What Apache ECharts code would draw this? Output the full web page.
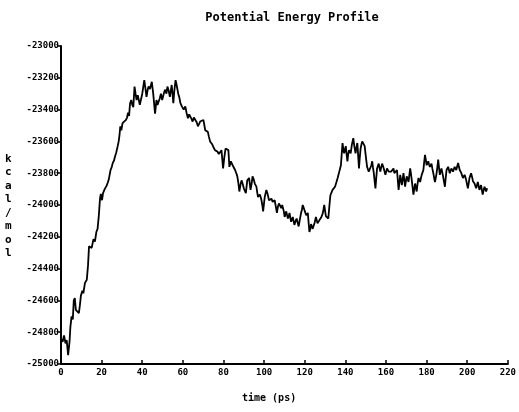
<!DOCTYPE html>
<html>
<head>
<meta charset="utf-8">
<script src="https://cdn.jsdelivr.net/npm/echarts@6/dist/echarts.min.js"></script>
<style>html,body{margin:0;padding:0;background:#fff}#c{width:519px;height:412px}</style>
</head>
<body>
<div id="c"></div>
<script>
const titleText = "Potential Energy Profile";
const xAxisLabel = "time (ps)";
const yAxisLabel = "kcal/mol";
const xTicks = [0, 20, 40, 60, 80, 100, 120, 140, 160, 180, 200, 220];
const yTicks = [-25000, -24800, -24600, -24400, -24200, -24000, -23800, -23600, -23400, -23200, -23000];

const timePs = [
0,0.8,1.5,2.2,2.8,3.5,4.2,4.6,5.2,5.8,6.3,6.8,7.3,8.0,8.8,9.3,9.8,10.5,11.0,11.8,12.7,13.3,13.8,14.5,15.1,16.0,16.7,17.4,18.0,18.6,19.2,19.6,20.2,20.7,21.5,22.4,23.0,23.5,24.4,25.0,25.5,26.1,26.6,27.2,27.9,28.4,28.8,29.2,29.7,30.3,31.0,32.0,32.5,33.0,33.5,34.0,34.6,35.1,35.6,36.2,36.7,37.2,37.8,38.3,38.8,39.4,40.0,40.4,41.0,41.5,42.1,42.6,43.1,43.8,44.7,45.4,46.3,47.0,47.5,48.0,48.6,49.2,49.8,50.3,50.8,51.3,51.9,52.4,53.0,53.6,54.5,55.3,55.8,56.4,57.0,57.7,58.2,58.8,59.5,60.4,61.2,61.8,62.5,63.1,63.7,64.3,64.8,65.4,66.1,66.8,67.4,68.0,68.5,69.3,70.1,70.6,71.0,71.7,72.3,72.8,73.4,74.0,74.5,75.2,75.8,76.5,77.1,77.7,78.3,79.0,79.8,80.4,81.0,81.6,82.4,82.9,83.6,84.5,85.1,85.7,86.3,86.8,87.3,87.8,88.4,88.9,89.5,90.0,90.5,91.0,91.7,92.2,92.6,93.3,93.8,94.3,94.9,95.4,96.2,96.6,97.0,97.9,98.3,98.7,99.1,99.5,100.3,101.1,101.7,102.4,103.0,103.6,104.2,104.7,105.2,105.7,106.3,106.8,107.3,107.9,108.4,108.9,109.3,109.7,110.1,110.5,110.9,111.3,111.7,112.1,112.5,112.9,113.3,113.7,114.1,114.5,114.9,115.5,116.0,116.5,117.0,117.6,118.2,118.6,119.0,119.4,119.8,120.2,120.7,121.1,121.5,121.9,122.3,122.7,123.1,123.4,123.9,124.4,124.9,125.5,125.9,126.3,127.0,127.6,128.2,128.8,129.2,129.6,130.0,130.4,131.0,131.6,132.1,132.6,133.2,133.7,134.3,134.9,135.5,136.2,136.6,137.0,137.4,137.8,138.2,138.6,139.0,139.4,139.8,140.2,140.6,141.0,141.4,141.8,142.2,142.6,143.2,143.9,144.4,145.0,145.4,145.9,146.3,146.7,147.1,147.5,147.9,148.3,148.7,149.1,149.5,149.9,150.3,150.7,151.1,151.5,152.0,152.4,152.8,153.2,153.6,154.0,154.4,154.8,155.2,155.6,156.0,156.4,156.8,157.2,157.6,158.1,158.5,158.9,159.3,159.7,160.1,160.5,160.9,161.3,161.7,162.1,162.5,162.9,163.3,163.7,164.1,164.5,165.0,165.4,165.8,166.2,166.6,167.0,167.4,167.8,168.2,168.6,169.0,169.4,169.8,170.2,170.6,171.1,171.5,171.9,172.3,172.7,173.1,173.5,173.9,174.3,174.7,175.1,175.5,176.0,176.4,176.8,177.2,177.6,178.0,178.4,178.8,179.2,179.6,180.0,180.4,180.8,181.2,181.6,182.0,182.4,182.8,183.3,183.7,184.1,184.5,184.9,185.3,185.7,186.1,186.5,186.9,187.3,187.7,188.1,188.5,189.0,189.4,189.8,190.2,190.6,191.0,191.4,191.8,192.2,192.6,193.0,193.4,193.8,194.2,194.6,195.0,195.5,195.9,196.3,196.7,197.1,197.5,197.9,198.3,198.7,199.1,199.5,199.9,200.3,200.7,201.1,201.5,201.9,202.4,202.8,203.2,203.6,204.0,204.4,204.8,205.2,205.6,206.0,206.4,206.8,207.2,207.6,208.0,208.5,208.9,209.3,209.8
];

const energy = [
-24840,-24860,-24820,-24870,-24850,-24945,-24860,-24770,-24700,-24720,-24600,-24585,-24660,-24650,-24680,-24630,-24570,-24540,-24555,-24490,-24470,-24380,-24260,-24250,-24270,-24215,-24230,-24170,-24150,-24070,-23960,-23930,-23970,-23925,-23900,-23880,-23860,-23840,-23780,-23760,-23735,-23720,-23695,-23670,-23630,-23600,-23560,-23505,-23530,-23485,-23490,-23465,-23450,-23420,-23440,-23360,-23340,-23370,-23385,-23255,-23300,-23340,-23310,-23320,-23370,-23360,-23300,-23295,-23215,-23260,-23320,-23280,-23255,-23270,-23225,-23300,-23425,-23340,-23370,-23360,-23330,-23300,-23340,-23330,-23290,-23275,-23300,-23255,-23280,-23320,-23245,-23360,-23280,-23215,-23250,-23300,-23320,-23360,-23380,-23400,-23380,-23420,-23455,-23430,-23420,-23460,-23475,-23450,-23445,-23480,-23505,-23490,-23475,-23470,-23465,-23500,-23530,-23520,-23540,-23570,-23600,-23590,-23620,-23640,-23655,-23650,-23665,-23680,-23685,-23655,-23770,-23700,-23645,-23635,-23655,-23760,-23725,-23750,-23760,-23780,-23800,-23820,-23860,-23915,-23870,-23845,-23870,-23895,-23910,-23925,-23845,-23840,-23830,-23905,-23870,-23820,-23840,-23865,-23885,-23920,-23950,-23935,-23950,-23970,-24000,-24040,-23950,-23905,-23930,-23970,-23960,-23960,-23980,-23990,-23970,-23980,-24050,-24010,-23990,-24005,-24020,-24000,-24010,-24040,-24075,-24055,-24040,-24065,-24085,-24070,-24050,-24080,-24105,-24090,-24075,-24100,-24125,-24100,-24085,-24110,-24135,-24090,-24050,-24030,-24000,-24015,-24030,-24045,-24065,-24060,-24050,-24110,-24170,-24150,-24120,-24125,-24150,-24145,-24110,-24075,-24095,-24115,-24100,-24095,-24075,-24055,-24030,-24000,-24035,-24070,-24075,-24085,-24010,-23940,-23920,-23905,-23895,-23885,-23860,-23830,-23810,-23790,-23770,-23750,-23680,-23610,-23650,-23675,-23650,-23630,-23680,-23725,-23680,-23655,-23665,-23675,-23620,-23580,-23630,-23675,-23640,-23610,-23690,-23770,-23700,-23645,-23620,-23600,-23595,-23590,-23630,-23675,-23720,-23760,-23775,-23790,-23785,-23780,-23750,-23725,-23765,-23800,-23850,-23895,-23830,-23770,-23755,-23740,-23765,-23790,-23765,-23740,-23755,-23770,-23790,-23810,-23790,-23770,-23780,-23790,-23785,-23780,-23790,-23795,-23780,-23770,-23800,-23800,-23790,-23780,-23840,-23905,-23860,-23810,-23840,-23875,-23840,-23800,-23840,-23885,-23850,-23820,-23835,-23855,-23810,-23770,-23805,-23845,-23890,-23935,-23900,-23865,-23890,-23915,-23870,-23830,-23840,-23855,-23830,-23810,-23795,-23780,-23730,-23685,-23715,-23750,-23740,-23725,-23745,-23760,-23750,-23740,-23770,-23800,-23830,-23855,-23830,-23800,-23760,-23715,-23765,-23810,-23790,-23770,-23795,-23820,-23850,-23885,-23830,-23780,-23770,-23760,-23780,-23800,-23785,-23770,-23780,-23790,-23775,-23760,-23770,-23780,-23760,-23735,-23760,-23780,-23790,-23800,-23815,-23830,-23820,-23810,-23825,-23845,-23870,-23895,-23865,-23830,-23815,-23800,-23825,-23850,-23860,-23865,-23880,-23895,-23875,-23855,-23880,-23905,-23890,-23875,-23905,-23935,-23910,-23885,-23900,-23915,-23895
];

const seriesData = timePs.map((t, i) => [t, energy[i]]);
const FONT = "'DejaVu Sans Mono', monospace";

const chart = echarts.init(document.getElementById('c'), null, {renderer: 'canvas'});
chart.setOption({
  animation: false,
  backgroundColor: '#ffffff',
  title: {
    text: titleText,
    left: 287, top: 7, textAlign: 'center',
    textStyle: {fontFamily: FONT, fontSize: 12, fontWeight: 'bold', color: '#000'}
  },
  grid: {left: 61, right: 7, top: 46, bottom: 48, containLabel: false},
  xAxis: {
    type: 'value', min: xTicks[0], max: xTicks[xTicks.length - 1], interval: 20,
    axisLine: {show: true, onZero: false, lineStyle: {color: '#000', width: 2}},
    axisTick: {show: true, inside: true, length: 4, lineStyle: {color: '#000', width: 1.5}},
    axisLabel: {color: '#000', fontFamily: FONT, fontSize: 9, fontWeight: 'bold', margin: 4},
    splitLine: {show: false}
  },
  yAxis: {
    type: 'value', min: yTicks[0], max: yTicks[yTicks.length - 1], interval: 200,
    axisLine: {show: true, onZero: false, lineStyle: {color: '#000', width: 2}},
    axisTick: {show: true, length: 4, lineStyle: {color: '#000', width: 1.5}},
    axisLabel: {color: '#000', fontFamily: FONT, fontSize: 9, fontWeight: 'bold', margin: 2,
      formatter: v => String(v)},
    splitLine: {show: false}
  },
  graphic: [
    {type: 'text', left: 5, top: 152,
      style: {text: yAxisLabel.split('').join('\n'), fontFamily: FONT, fontSize: 11, fontWeight: 'bold',
        fill: '#000', lineHeight: 13.5, align: 'center'}},
    {type: 'text', left: 242, top: 393,
      style: {text: xAxisLabel, fontFamily: FONT, fontSize: 10, fontWeight: 'bold', fill: '#000'}}
  ],
  series: [{
    type: 'line', data: seriesData, showSymbol: false, symbol: 'none',
    lineStyle: {color: '#000', width: 1.8}, smooth: false
  }]
});
</script>
</body>
</html>
